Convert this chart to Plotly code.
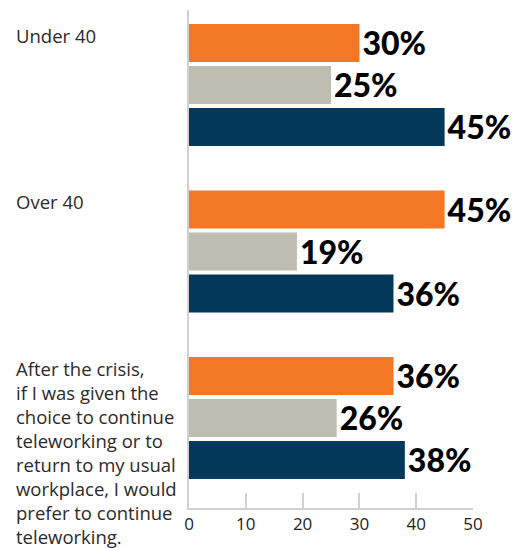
import plotly.graph_objects as go

# Survey groups (top to bottom) and the share answering in each series
categories = [
    "Under 40",
    "Over 40",
    "After the crisis,<br>if I was given the<br>choice to continue<br>teleworking or to<br>return to my usual<br>workplace, I would<br>prefer to continue<br>teleworking.",
]
series_names = ["Series A", "Series B", "Series C"]
series_values = [
    [30, 45, 36],
    [25, 19, 26],
    [45, 36, 38],
]
series_colors = ["#F37725", "#BFBCB0", "#03385A"]
x_ticks = [0, 10, 20, 30, 40, 50]

fig = go.Figure()
for name, vals, color in zip(series_names, series_values, series_colors):
    fig.add_trace(go.Bar(
        y=list(range(len(categories))),
        x=vals,
        name=name,
        orientation="h",
        marker=dict(color=color, line=dict(width=0)),
        texttemplate="%{x}%",
        textposition="outside",
        constraintext="none",
        cliponaxis=False,
        textfont=dict(family="Lato", size=32, color="#000000", weight=900),
    ))

# Left-aligned group labels, placed at the top of each bar group
for i, label in enumerate(categories):
    fig.add_annotation(
        text=label,
        xref="paper", x=-175 / 284, xanchor="left",
        yref="y", y=i - 0.378, yanchor="top", yshift=1,
        align="left", showarrow=False,
        font=dict(family="Open Sans", size=18.5, color="#2A2A2A"),
    )

fig.update_layout(
    width=520, height=548,
    margin=dict(l=189, r=47, t=10, b=40),
    paper_bgcolor="white", plot_bgcolor="white",
    barmode="group", bargap=0.243, bargroupgap=0.095,
    showlegend=False,
    xaxis=dict(
        range=[0, 50], tickvals=x_ticks, ticktext=[str(t) for t in x_ticks],
        showgrid=False, zeroline=False,
        showline=True, linecolor="#D0D0D0", linewidth=2,
        ticks="inside", ticklen=15, tickwidth=2, tickcolor="#D0D0D0",
        tickfont=dict(family="Open Sans", size=17, color="#222222"),
    ),
    yaxis=dict(
        range=[2.541, -0.45], showticklabels=False, showgrid=False,
        zeroline=False, showline=True, linecolor="#D0D0D0", linewidth=2,
        ticks="",
    ),
)

fig.write_html("out.html")
